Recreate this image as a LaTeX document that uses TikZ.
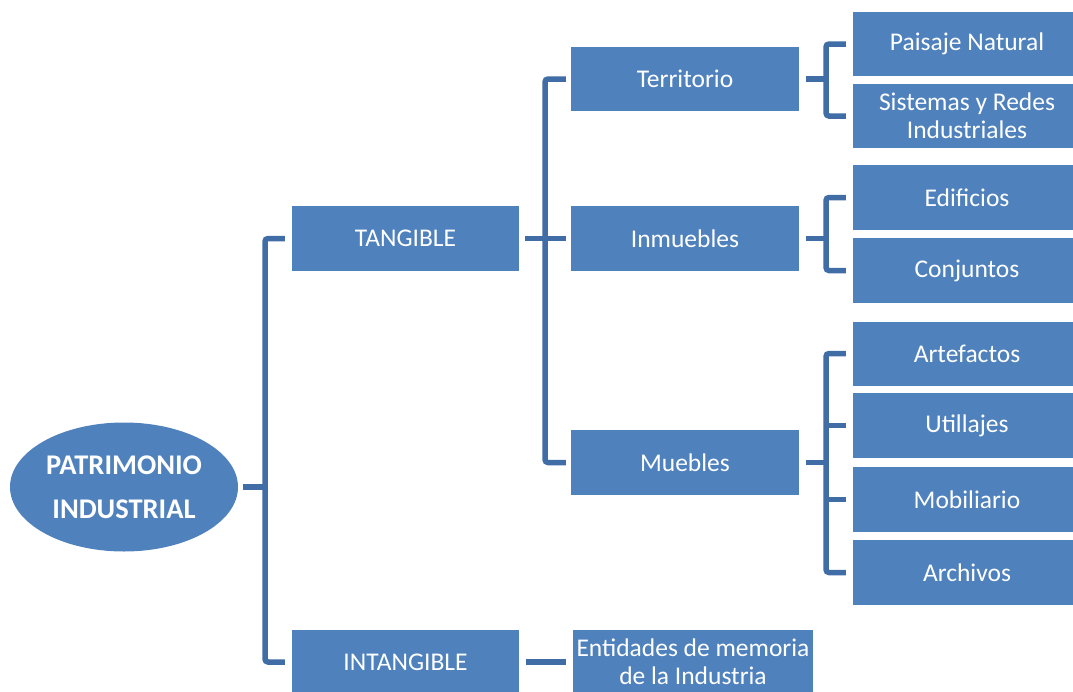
\documentclass[tikz,border=0pt]{standalone}
\usepackage{fontspec}
\setmainfont{Carlito}
\usetikzlibrary{shapes.geometric}
\definecolor{boxblue}{HTML}{4F81BD}
\definecolor{lineblue}{HTML}{406DA5}
\begin{document}
\begin{tikzpicture}[x=1pt,y=-1pt,
  box/.style={rectangle, fill=boxblue, draw=none, text=white, inner sep=0pt,
    minimum width=228pt, minimum height=64pt, align=center,
    font=\fontsize{25.5}{28}\selectfont},
  rootnode/.style={ellipse, fill=boxblue, draw=none, text=white, inner sep=0pt,
    minimum width=228pt, minimum height=129pt, align=center,
    font=\fontsize{28.5}{44}\selectfont\bfseries},
  conn/.style={draw=lineblue, line width=5.5pt, rounded corners=3pt}]
\useasboundingbox (0,0) rectangle (1073,691);
% root
\node[rootnode] (pat) at (124,487) {PATRIMONIO\\INDUSTRIAL};
% level 1
\node[box, minimum width=227pt, minimum height=65pt] (tan) at (405.5,238.5) {TANGIBLE};
\node[box, minimum width=227pt] (intan) at (405.5,662) {INTANGIBLE};
% level 2
\node[box] (ter) at (685,79) {Territorio};
\node[box, minimum height=65pt] (inm) at (685,238.5) {Inmuebles};
\node[box, minimum height=65pt] (mue) at (685,462.5) {Muebles};
\node[box, minimum width=240pt] (ent) at (693,662) {Entidades de memoria\\de la Industria};
% level 3
\node[box] (pai) at (967,44) {Paisaje Natural};
\node[box] (sis) at (967,116) {Sistemas y Redes\\Industriales};
\node[box, minimum height=65pt] (edi) at (967,197.5) {Edificios};
\node[box, minimum height=65pt] (con) at (967,270.5) {Conjuntos};
\node[box] (art) at (967,353.5) {Artefactos};
\node[box, minimum height=65pt] (uti) at (967,425.5) {Utillajes};
\node[box, minimum height=65pt] (mob) at (967,499.5) {Mobiliario};
\node[box, minimum height=65pt] (arc) at (967,572.5) {Archivos};
% bracket coordinates
\coordinate (b1) at (265,487);
\coordinate (b2) at (545,238.5);
\coordinate (b3) at (826,79);
\coordinate (b4) at (826,238.5);
\coordinate (b5) at (826,462.5);
% connectors
\draw[conn] ([xshift=5pt]pat.east) -- (b1);
\draw[conn] ([xshift=-7pt]tan.west) -| (b1) |- ([xshift=-7pt]intan.west);
\draw[conn] ([xshift=6pt]tan.east) -- ([xshift=-5pt]inm.west);
\draw[conn] ([xshift=-5pt]ter.west) -| (b2) |- ([xshift=-5pt]mue.west);
\draw[conn] ([xshift=7pt]ter.east) -- (b3);
\draw[conn] ([xshift=-7pt]pai.west) -| (b3) |- ([xshift=-7pt]sis.west);
\draw[conn] ([xshift=7pt]inm.east) -- (b4);
\draw[conn] ([xshift=-7pt]edi.west) -| (b4) |- ([xshift=-7pt]con.west);
\draw[conn] ([xshift=7pt]mue.east) -- (b5);
\draw[conn] ([xshift=-7pt]art.west) -| (b5) |- ([xshift=-7pt]arc.west);
\draw[conn] ([xshift=-7pt]uti.west) -- (uti.west -| b5);
\draw[conn] ([xshift=-7pt]mob.west) -- (mob.west -| b5);
\draw[conn] ([xshift=7pt]intan.east) -- ([xshift=-7pt]ent.west);
\end{tikzpicture}
\end{document}
